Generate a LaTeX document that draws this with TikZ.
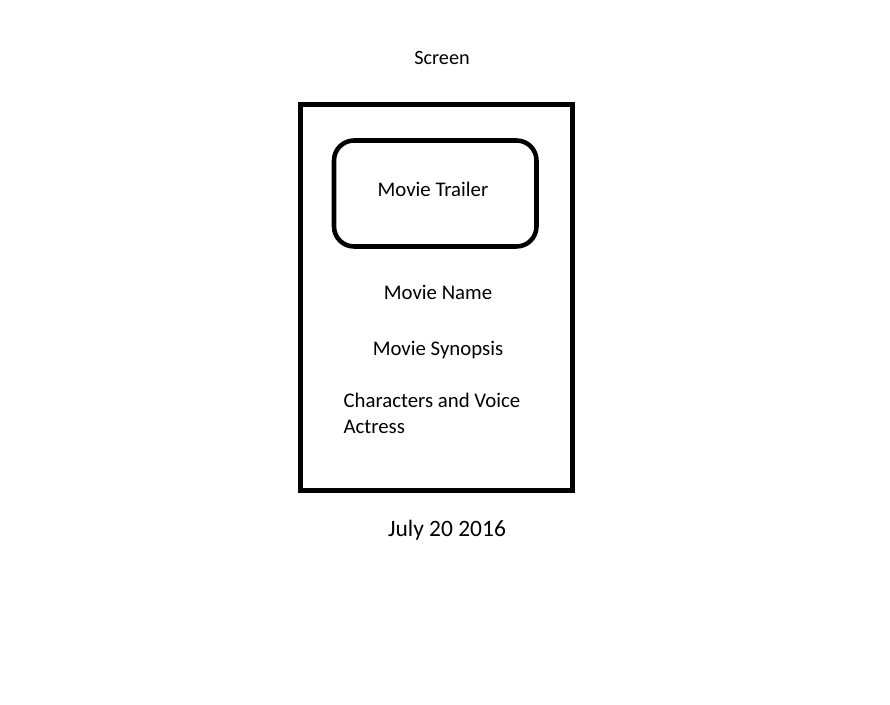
\documentclass[tikz,border=0pt]{standalone}
\usepackage{fontspec}
\setmainfont{Carlito}
\begin{document}
\begin{tikzpicture}[x=0.75pt,y=-0.75pt,
  lbl/.style={inner sep=0pt,anchor=base,font=\fontsize{15.6}{19.3}\selectfont},
  frame/.style={draw=black,line width=3.75pt},
  trailer/.style={draw=black,line width=3.4pt,rounded corners=15pt}]
\useasboundingbox (0,0) rectangle (890,705);
\node[lbl,font=\fontsize{15.2}{19}\selectfont] (screen) at (442,65) {Screen};
\draw[frame] (300.5,105) rectangle (572,491);
\draw[trailer] (334,140.5) rectangle (536.5,246.5);
\node[lbl] (trailer) at (433,196.7) {Movie Trailer};
\node[lbl] (name) at (438,300) {Movie Name};
\node[lbl] (synopsis) at (438,356) {Movie Synopsis};
\node[lbl,anchor=base west,align=left] (chars) at (343.3,433.3) {Characters and Voice\\Actress};
\node[lbl,font=\fontsize{17.6}{21}\selectfont] (date) at (447,536.7) {July 20 2016};
\end{tikzpicture}
\end{document}
